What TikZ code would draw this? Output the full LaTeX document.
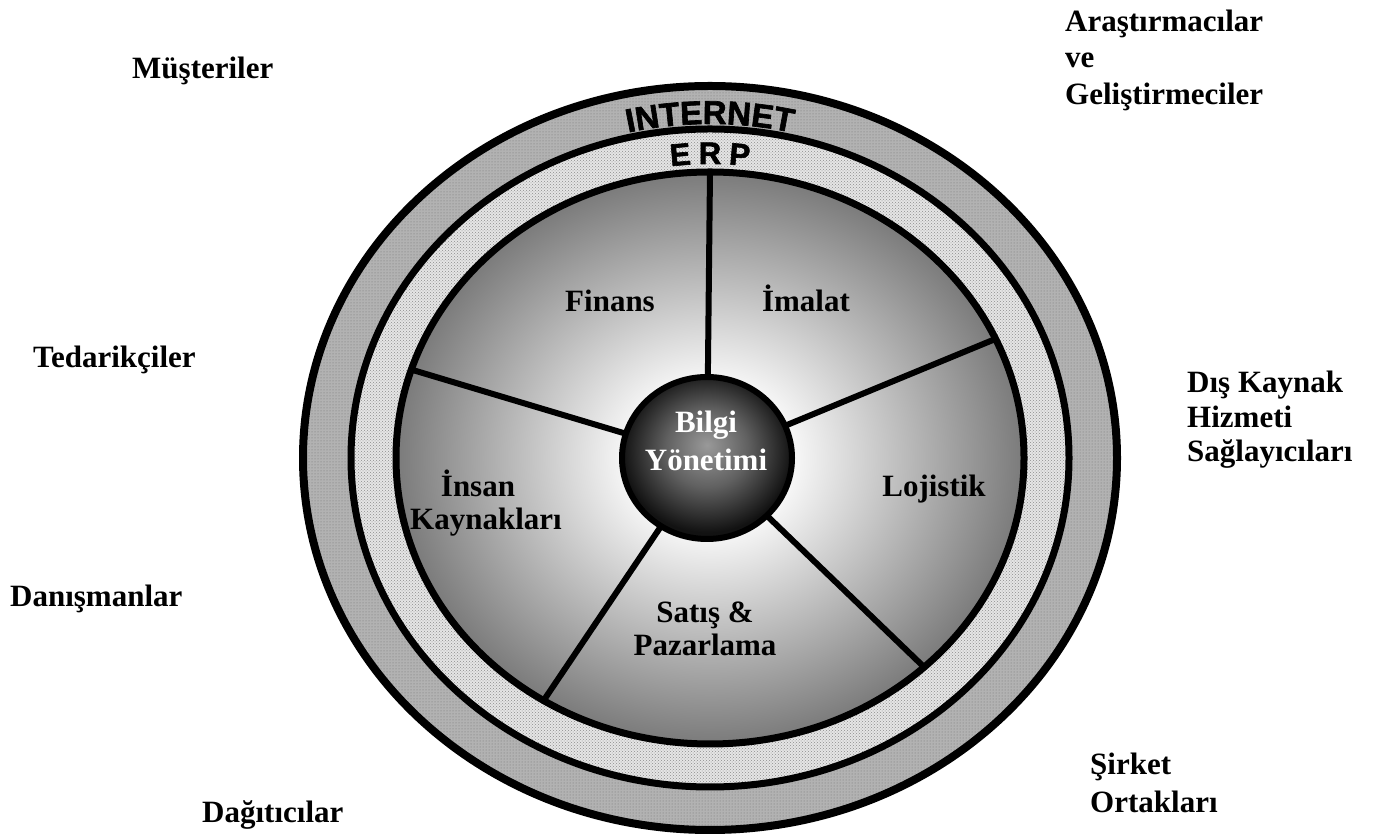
\documentclass[tikz,border=0pt]{standalone}
\usepackage{fontspec}
\setmainfont{Liberation Serif}
\newfontfamily\lsans{Liberation Sans}[BoldFeatures={FakeBold=2}]
\usetikzlibrary{decorations.text,patterns}
\pgfdeclareradialshading{pieshade}{\pgfpointorigin}{color(0bp)=(white); color(7bp)=(white!96!black); color(25bp)=(black!52); color(50bp)=(black!52)}
\pgfdeclareradialshading{ballshade}{\pgfpoint{0bp}{4bp}}{color(0bp)=(black!40); color(12bp)=(black!62); color(25bp)=(black!93); color(50bp)=(black!93)}
\begin{document}
\begin{tikzpicture}[x=1pt,y=1pt,
  lbl/.style={font=\fontsize{31}{36}\selectfont\bfseries, inner sep=0pt, anchor=base west},
  slbl/.style={font=\fontsize{31}{36}\selectfont\bfseries, inner sep=0pt, anchor=base},
  ringline/.style={line width=7pt},
  spoke/.style={line width=6pt},
  erpl/.style={font=\lsans\fontsize{31}{31}\selectfont\bfseries, inner sep=0pt, anchor=base}]
\useasboundingbox (0,0) rectangle (1376,834);
\coordinate (C) at (710,376);
\coordinate (B) at (707,376);
% INTERNET band
\fill[black!30] (C) ellipse[x radius=407,y radius=372];
\fill[pattern=dots, pattern color=black!55] (C) ellipse[x radius=407,y radius=372];
% ERP band
\fill[black!10] (C) ellipse[x radius=359,y radius=329];
\fill[pattern=crosshatch dots, pattern color=black!45] (C) ellipse[x radius=359,y radius=329];
% pie
\shade[shading=pieshade] (C) ellipse[x radius=314,y radius=286];
% spokes
\coordinate (sa) at ([shift={(C)}]90:314pt and 286pt);
\coordinate (sb) at ([shift={(C)}]24.6:314pt and 286pt);
\coordinate (sc) at ([shift={(C)}]-47:314pt and 286pt);
\coordinate (sd) at ([shift={(C)}]-122:314pt and 286pt);
\coordinate (se) at ([shift={(C)}]162:314pt and 286pt);
\draw[spoke] (B) -- (sa);
\draw[spoke] (B) -- (sb);
\draw[spoke] (B) -- (sc);
\draw[spoke] (B) -- (sd);
\draw[spoke] (B) -- (se);
% outlines
\draw[line width=8pt] (C) ellipse[x radius=407,y radius=372];
\draw[ringline] (C) ellipse[x radius=359,y radius=329];
\draw[ringline] (C) ellipse[x radius=314,y radius=286];
% center ball
\shadedraw[shading=ballshade, line width=6pt] (B) ellipse[x radius=85,y radius=81];
% curved texts
\path[decorate, decoration={text along path, text align=center,
  text={|\lsans\fontsize{33}{33}\selectfont\bfseries|INTERNET}}]
  (347,376) arc[start angle=180, end angle=0, x radius=363, y radius=334];
\node[erpl, rotate=4.8] (erpE) at ([shift={(C)}]95.2:319pt and 294pt) {E};
\node[erpl] (erpR) at ([shift={(C)}]90:319pt and 294pt) {R};
\node[erpl, rotate=-4.8] (erpP) at ([shift={(C)}]84.8:319pt and 294pt) {P};
% sector labels
\node[slbl] (finans) at (610,522) {Finans};
\node[slbl] (imalat) at (806,522) {İmalat};
\node[slbl] (lojistik) at (934,337) {Lojistik};
\node[slbl] (satis) at (705,211) {Satış \&};
\node[slbl] (pazar) at (705,178) {Pazarlama};
\node[slbl] (insan) at (478,337) {İnsan};
\node[slbl] (kaynak) at (486,304) {Kaynakları};
\node[slbl, text=white] (bilgi) at (706,401) {Bilgi};
\node[slbl, text=white] (yonet) at (706,363) {Yönetimi};
% outer labels
\node[lbl] (must) at (132,755) {Müşteriler};
\node[lbl] (aras1) at (1065,802) {Araştırmacılar};
\node[lbl] (aras2) at (1065,766) {ve};
\node[lbl] (aras3) at (1065,729) {Geliştirmeciler};
\node[lbl] (ted) at (33,466) {Tedarikçiler};
\node[lbl] (dis1) at (1187,441) {Dış Kaynak};
\node[lbl] (dis2) at (1187,406) {Hizmeti};
\node[lbl] (dis3) at (1187,372) {Sağlayıcıları};
\node[lbl] (dan) at (10,227) {Danışmanlar};
\node[lbl] (sir1) at (1090,59) {Şirket};
\node[lbl] (sir2) at (1090,21) {Ortakları};
\node[lbl] (dag) at (202,11) {Dağıtıcılar};
\end{tikzpicture}
\end{document}
